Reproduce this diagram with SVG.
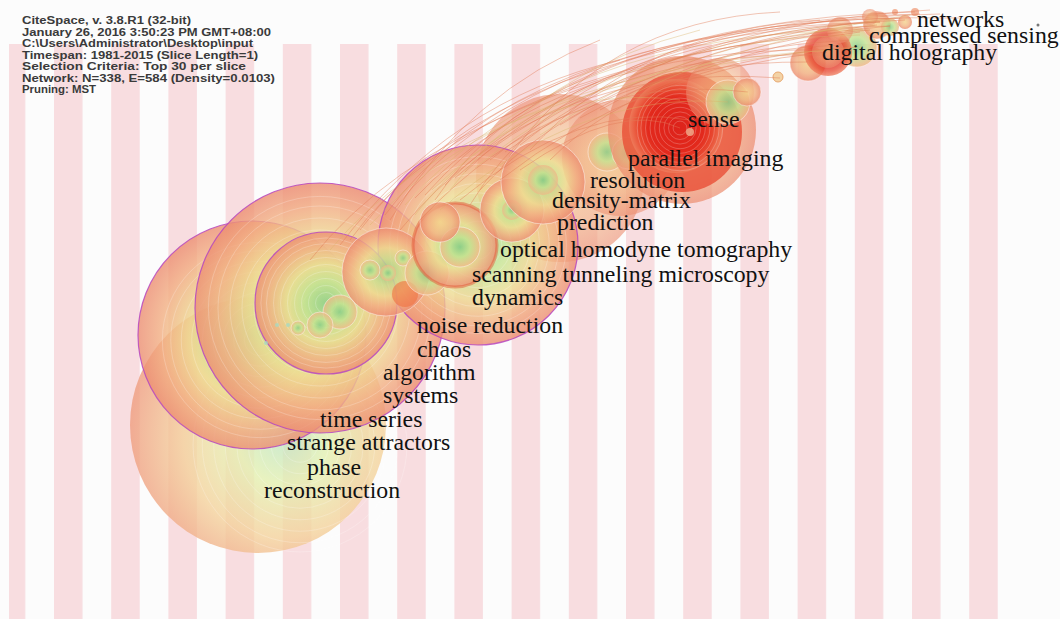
<svg xmlns="http://www.w3.org/2000/svg" xmlns:xlink="http://www.w3.org/1999/xlink" width="1060" height="619" viewBox="0 0 1060 619">
<style>
.hdr{font-family:"Liberation Sans",Arial,sans-serif;font-weight:bold;font-size:11.5px;fill:#3a3a3a}
.lbl{font-family:"Liberation Serif","Times New Roman",serif;font-size:23.8px;fill:#111}
.e{fill:none;stroke:#e07a55;stroke-width:0.8;stroke-opacity:0.55}
.e2{fill:none;stroke:#d9b46a;stroke-width:0.8;stroke-opacity:0.5}
.pur{stroke:#b646c0;stroke-width:1.2;stroke-opacity:0.85}
.wr{stroke:#ffffff;stroke-opacity:0.45;stroke-width:1}
.rg circle{fill:none;stroke:#ffffff;stroke-opacity:0.22;stroke-width:1;vector-effect:non-scaling-stroke}
</style>
<defs>
<pattern id="stripes" x="-3.2" y="0" width="57.2" height="619" patternUnits="userSpaceOnUse">
<rect x="0" y="0" width="28.5" height="619" fill="#f8dde0"/>
</pattern>
<radialGradient id="gBig" cx="0.6" cy="0.55" r="0.6">
<stop offset="0" stop-color="#c0e6c4"/>
<stop offset="0.3" stop-color="#e4f0b0"/>
<stop offset="0.65" stop-color="#f4d29c"/>
<stop offset="1" stop-color="#ef9e80"/>
</radialGradient>
<radialGradient id="gPeach">
<stop offset="0" stop-color="#94d28a"/>
<stop offset="0.3" stop-color="#c8e492"/>
<stop offset="0.55" stop-color="#eedc92"/>
<stop offset="0.8" stop-color="#f2ae82"/>
<stop offset="1" stop-color="#ec8e72"/>
</radialGradient>
<radialGradient id="gOrange">
<stop offset="0" stop-color="#f4d48c"/>
<stop offset="0.6" stop-color="#f2b484"/>
<stop offset="1" stop-color="#ec8c6e"/>
</radialGradient>
<radialGradient id="gGreen">
<stop offset="0" stop-color="#86cc86"/>
<stop offset="0.5" stop-color="#c4e290"/>
<stop offset="1" stop-color="#f0b888"/>
</radialGradient>
<radialGradient id="gRed">
<stop offset="0" stop-color="#dc1e18"/>
<stop offset="0.6" stop-color="#e2261a"/>
<stop offset="0.8" stop-color="#e8462e"/>
<stop offset="1" stop-color="#ee7a5a"/>
</radialGradient>
<g id="rings" class="rg">
<circle r="0.15"/><circle r="0.25"/><circle r="0.35"/><circle r="0.45"/><circle r="0.55"/><circle r="0.65"/><circle r="0.75"/><circle r="0.85"/><circle r="0.93"/>
</g>
</defs>

<g id="background">
<rect x="0" y="0" width="1060" height="619" fill="#fcfcfc"/>
<rect x="9" y="44" width="989" height="575" fill="url(#stripes)"/>
</g>

<g id="nodes" fill-opacity="0.8">
<g id="node-reconstruction">
<circle cx="258" cy="425" r="128" fill="url(#gBig)"/>
<use xlink:href="#rings" transform="translate(300 445) scale(115)"/>
</g>
<g id="node-time-series">
<circle cx="252" cy="335" r="114" fill="url(#gPeach)" class="pur"/>
<use xlink:href="#rings" transform="translate(260 340) scale(105)"/>
</g>
<g id="node-strange-attractors">
<circle cx="320" cy="308" r="125" fill="url(#gPeach)" class="pur"/>
<use xlink:href="#rings" transform="translate(320 308) scale(120)"/>
</g>
<g id="node-prediction-big">
<circle cx="560" cy="178" r="84" fill="url(#gOrange)" fill-opacity="0.6"/>
<circle cx="620" cy="158" r="58" fill="url(#gOrange)" fill-opacity="0.55"/>
</g>
<g id="node-noise-reduction">
<circle cx="478" cy="245" r="100" fill="url(#gPeach)" class="pur"/>
<use xlink:href="#rings" transform="translate(478 245) scale(95)"/>
</g>
<g id="node-chaos">
<circle cx="326" cy="303" r="71" fill="url(#gPeach)" class="pur"/>
<use xlink:href="#rings" transform="translate(326 303) scale(70)"/>
</g>
<g id="node-algorithm">
<circle cx="386" cy="272" r="44" fill="url(#gPeach)" class="wr"/>
<circle cx="405" cy="294" r="13" fill="#f07040" fill-opacity="0.6"/>
<circle cx="370" cy="270" r="10" fill="url(#gGreen)" class="wr"/>
<circle cx="388" cy="273" r="8" fill="url(#gGreen)"/>
<circle cx="403" cy="258" r="8" fill="url(#gGreen)" class="wr"/>
</g>
<g id="node-systems">
<circle cx="427" cy="273" r="22" fill="url(#gGreen)" class="wr"/>
</g>
<g id="node-phase">
<circle cx="340" cy="312" r="17" fill="url(#gGreen)" class="wr"/>
<circle cx="320" cy="325" r="13" fill="url(#gGreen)" class="wr"/>
<circle cx="298" cy="328" r="7" fill="url(#gGreen)" class="wr"/>
<circle cx="288" cy="325" r="2" fill="#a8d8c0"/>
<circle cx="277" cy="325" r="2" fill="#a8d8c0"/>
<circle cx="266" cy="343" r="2" fill="#a8d8c0"/>
</g>
<g id="node-dynamics">
<circle cx="455" cy="245" r="42" fill="url(#gPeach)" stroke="#e45a38" stroke-width="3" stroke-opacity="0.5"/>
<circle cx="460" cy="247" r="20" fill="url(#gGreen)" class="wr"/>
<circle cx="440" cy="222" r="20" fill="url(#gOrange)" class="wr"/>
</g>
<g id="node-scanning-tunneling-microscopy">
<circle cx="512" cy="210" r="32" fill="url(#gPeach)" class="wr"/>
<circle cx="512" cy="210" r="10" fill="url(#gGreen)"/>
</g>
<g id="node-optical-homodyne-tomography">
<circle cx="543" cy="182" r="42" fill="url(#gPeach)" class="wr"/>
<circle cx="543" cy="180" r="15" fill="url(#gGreen)"/>
</g>
<g id="node-density-matrix">
<circle cx="607" cy="152" r="19" fill="url(#gGreen)" class="wr"/>
<circle cx="628" cy="153" r="16" fill="url(#gGreen)" class="wr"/>
</g>
<g id="node-sense">
<circle cx="682" cy="130" r="74" fill="url(#gOrange)" fill-opacity="0.7"/>
<circle cx="682" cy="132" r="60" fill="#e8472f" fill-opacity="0.75"/>
<circle cx="676" cy="126" r="47" fill="url(#gRed)" fill-opacity="0.95"/>
<use xlink:href="#rings" transform="translate(680 128) scale(46)"/>
<circle cx="690" cy="132" r="4" fill="#f0b090"/>
</g>
<g id="node-resolution">
<circle cx="720" cy="92" r="34" fill="url(#gOrange)" fill-opacity="0.55"/>
<circle cx="728" cy="102" r="22" fill="url(#gGreen)" class="wr"/>
<circle cx="747" cy="92" r="14" fill="url(#gOrange)" class="wr"/>
<circle cx="778" cy="77" r="5" fill="#f0c890" stroke="#e8a870" stroke-width="1"/>
</g>
<g id="node-digital-holography">
<circle cx="808" cy="63" r="18" fill="url(#gOrange)" class="wr"/>
<circle cx="857" cy="47" r="20" fill="url(#gGreen)" class="wr"/>
<circle cx="828" cy="52" r="24" fill="url(#gRed)" fill-opacity="0.75"/>
<circle cx="828" cy="52" r="16" fill="url(#gOrange)" fill-opacity="0.6"/>
<circle cx="840" cy="30" r="13" fill="url(#gOrange)" fill-opacity="0.6"/>
</g>
<g id="node-compressed-sensing">
<circle cx="877" cy="25" r="14" fill="url(#gOrange)" class="wr"/>
<circle cx="890" cy="27" r="9" fill="url(#gGreen)"/>
<circle cx="870" cy="17" r="8" fill="url(#gOrange)" fill-opacity="0.6"/>
</g>
<g id="node-networks">
<circle cx="905" cy="22" r="7" fill="url(#gOrange)"/>
<circle cx="915" cy="12" r="4" fill="#f0a080"/>
<circle cx="895" cy="12" r="3" fill="#f0a080"/>
<circle cx="1038" cy="25" r="1.5" fill="#555"/>
</g>
</g>

<g id="connectors">
<path class="e" d="M385 215 Q520 30 880 22"/>
<path class="e" d="M395 208 Q540 25 900 18"/>
<path class="e2" d="M405 205 Q560 30 870 30"/>
<path class="e" d="M415 198 Q560 45 830 50"/>
<path class="e" d="M425 195 Q580 20 915 12"/>
<path class="e2" d="M432 190 Q590 40 860 35"/>
<path class="e" d="M445 185 Q600 30 890 26"/>
<path class="e" d="M455 178 Q600 50 820 55"/>
<path class="e" d="M465 172 Q620 20 940 14"/>
<path class="e2" d="M475 168 Q640 35 880 22"/>
<path class="e" d="M490 160 Q650 30 905 20"/>
<path class="e" d="M505 152 Q650 50 850 40"/>
<path class="e" d="M520 145 Q670 25 930 10"/>
<path class="e2" d="M540 135 Q680 40 875 25"/>
<path class="e" d="M560 125 Q700 35 900 18"/>
<path class="e" d="M580 118 Q700 50 840 45"/>
<path class="e" d="M600 110 Q720 40 890 26"/>
<path class="e2" d="M620 100 Q740 40 910 15"/>
<path class="e" d="M640 95 Q750 45 860 32"/>
<path class="e" d="M360 230 Q500 40 880 22"/>
<path class="e" d="M350 240 Q480 60 870 30"/>
<path class="e2" d="M370 225 Q510 70 830 50"/>
<path class="e" d="M400 230 Q540 60 780 78"/>
<path class="e" d="M420 220 Q560 70 748 92"/>
<path class="e2" d="M440 210 Q580 90 728 102"/>
<path class="e" d="M460 200 Q580 100 690 120"/>
<path class="e" d="M480 190 Q600 60 808 62"/>
<path class="e" d="M500 180 Q640 70 827 52"/>
<path class="e2" d="M330 250 Q470 80 857 47"/>
<path class="e" d="M310 260 Q460 70 877 25"/>
<path class="e" d="M520 170 Q620 100 680 128"/>
<path class="e" d="M550 160 Q650 60 857 47"/>
<path class="e" d="M470 205 Q580 20 920 14"/>
<path class="e2" d="M415 215 Q520 80 680 100"/>
<path class="e" d="M435 200 Q560 10 960 18"/>
<path class="e" d="M340 245 Q450 100 620 60"/>
<path class="e" d="M390 220 Q470 90 600 40"/>
<path class="e2" d="M450 190 Q540 70 700 30"/>
<path class="e" d="M500 170 Q600 20 780 12"/>
<path class="e" d="M530 150 Q640 30 820 20"/>
</g>

<g id="labels">
<text class="lbl" x="917" y="27">networks</text>
<text class="lbl" x="869" y="43">compressed sensing</text>
<text class="lbl" x="822" y="60">digital holography</text>
<text class="lbl" x="688" y="127">sense</text>
<text class="lbl" x="628" y="166">parallel imaging</text>
<text class="lbl" x="590" y="188">resolution</text>
<text class="lbl" x="552" y="208">density-matrix</text>
<text class="lbl" x="557" y="230">prediction</text>
<text class="lbl" x="500" y="257">optical homodyne tomography</text>
<text class="lbl" x="472" y="282">scanning tunneling microscopy</text>
<text class="lbl" x="472" y="305">dynamics</text>
<text class="lbl" x="417" y="333">noise reduction</text>
<text class="lbl" x="417" y="357">chaos</text>
<text class="lbl" x="383" y="380">algorithm</text>
<text class="lbl" x="383" y="403">systems</text>
<text class="lbl" x="320" y="427">time series</text>
<text class="lbl" x="287" y="450">strange attractors</text>
<text class="lbl" x="307" y="475">phase</text>
<text class="lbl" x="264" y="498">reconstruction</text>
</g>

<g id="header">
<text class="hdr" x="22" y="24" textLength="169" lengthAdjust="spacingAndGlyphs">CiteSpace, v. 3.8.R1 (32-bit)</text>
<text class="hdr" x="22" y="35.5" textLength="249" lengthAdjust="spacingAndGlyphs">January 26, 2016 3:50:23 PM GMT+08:00</text>
<text class="hdr" x="22" y="47" textLength="231" lengthAdjust="spacingAndGlyphs">C:\Users\Administrator\Desktop\input</text>
<text class="hdr" x="22" y="58.5" textLength="236" lengthAdjust="spacingAndGlyphs">Timespan: 1981-2015 (Slice Length=1)</text>
<text class="hdr" x="22" y="70" textLength="224" lengthAdjust="spacingAndGlyphs">Selection Criteria: Top 30 per slice</text>
<text class="hdr" x="22" y="81.5" textLength="253" lengthAdjust="spacingAndGlyphs">Network: N=338, E=584 (Density=0.0103)</text>
<text class="hdr" x="22" y="93" textLength="74" lengthAdjust="spacingAndGlyphs">Pruning: MST</text>
</g>
</svg>
